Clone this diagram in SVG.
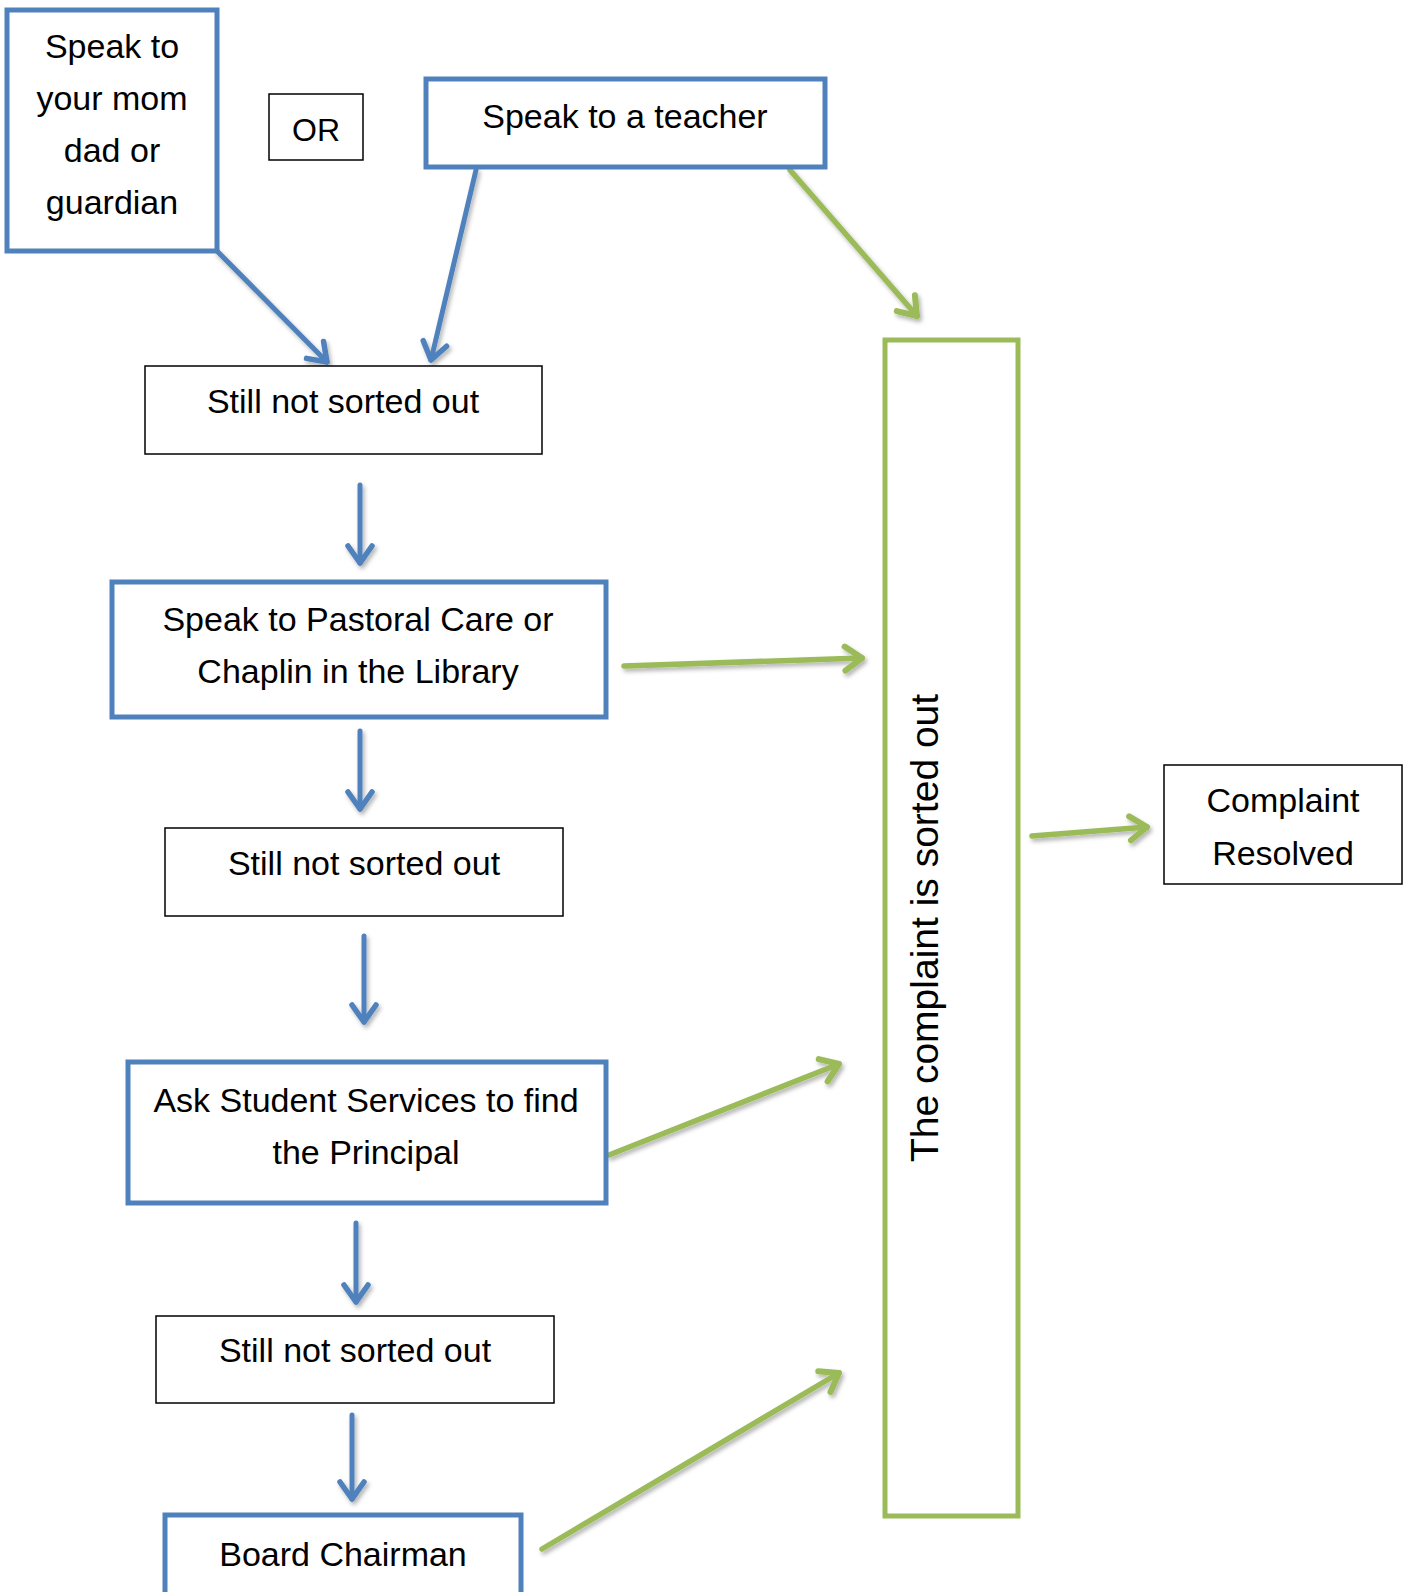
<svg xmlns="http://www.w3.org/2000/svg" width="1411" height="1592" viewBox="0 0 1411 1592">
  <style>
    .blue { fill: #ffffff; stroke: #4F81BD; stroke-width: 5; }
    .green { fill: #ffffff; stroke: #9BBB59; stroke-width: 5; }
    .plain { fill: #ffffff; stroke: #000000; stroke-width: 1.5; }
    text { font-family: "Liberation Sans", Arial, sans-serif; font-size: 34px; fill: #000000; text-anchor: middle; }
    .cb { fill: none; stroke: #4F81BD; stroke-width: 5; stroke-linecap: round; }
    .cg { fill: none; stroke: #9BBB59; stroke-width: 5.5; stroke-linecap: round; }
  </style>
  <defs>
    <marker id="ab" markerUnits="userSpaceOnUse" markerWidth="40" markerHeight="40" refX="0" refY="0" viewBox="-25 -20 30 40" orient="auto">
      <path d="M-17,-12 L0,0 L-17,12" fill="none" stroke="#4F81BD" stroke-width="5.5" stroke-linecap="round" stroke-linejoin="round"/>
    </marker>
    <marker id="ag" markerUnits="userSpaceOnUse" markerWidth="40" markerHeight="40" refX="0" refY="0" viewBox="-25 -20 30 40" orient="auto">
      <path d="M-17,-12 L0,0 L-17,12" fill="none" stroke="#9BBB59" stroke-width="6" stroke-linecap="round" stroke-linejoin="round"/>
    </marker>
    <filter id="sh" x="-20%" y="-20%" width="140%" height="140%">
      <feDropShadow dx="2" dy="3" stdDeviation="2" flood-color="#000000" flood-opacity="0.3"/>
    </filter>
  </defs>

  <g id="connectors" filter="url(#sh)">
    <line class="cb" x1="217" y1="251" x2="327" y2="362" marker-end="url(#ab)"/>
    <line class="cb" x1="476" y1="170" x2="431" y2="360" marker-end="url(#ab)"/>
    <line class="cg" x1="790" y1="170" x2="917" y2="316" marker-end="url(#ag)"/>
    <line class="cb" x1="360" y1="485" x2="360" y2="563" marker-end="url(#ab)"/>
    <line class="cg" x1="624" y1="666" x2="862" y2="658" marker-end="url(#ag)"/>
    <line class="cb" x1="360" y1="731" x2="360" y2="809" marker-end="url(#ab)"/>
    <line class="cb" x1="364" y1="936" x2="364" y2="1022" marker-end="url(#ab)"/>
    <line class="cg" x1="609" y1="1155" x2="839" y2="1064" marker-end="url(#ag)"/>
    <line class="cb" x1="356" y1="1223" x2="356" y2="1302" marker-end="url(#ab)"/>
    <line class="cb" x1="352" y1="1415" x2="352" y2="1499" marker-end="url(#ab)"/>
    <line class="cg" x1="542" y1="1549" x2="839" y2="1373" marker-end="url(#ag)"/>
    <line class="cg" x1="1032" y1="836" x2="1147" y2="827" marker-end="url(#ag)"/>
  </g>

  <g id="node-parent">
    <rect class="blue" x="7" y="10" width="210" height="241"/>
    <text x="112" y="58">Speak to</text>
    <text x="112" y="110">your mom</text>
    <text x="112" y="162">dad or</text>
    <text x="112" y="214">guardian</text>
  </g>

  <g id="node-or">
    <rect class="plain" x="269" y="94" width="94" height="66"/>
    <text x="316" y="141" style="font-size:32px">OR</text>
  </g>

  <g id="node-teacher">
    <rect class="blue" x="426" y="79" width="399" height="88"/>
    <text x="625" y="128">Speak to a teacher</text>
  </g>

  <g id="node-still1">
    <rect class="plain" x="145" y="366" width="397" height="88"/>
    <text x="343" y="413">Still not sorted out</text>
  </g>

  <g id="node-pastoral">
    <rect class="blue" x="112" y="582" width="494" height="135"/>
    <text x="358" y="631">Speak to Pastoral Care or</text>
    <text x="358" y="683">Chaplin in the Library</text>
  </g>

  <g id="node-still2">
    <rect class="plain" x="165" y="828" width="398" height="88"/>
    <text x="364" y="875">Still not sorted out</text>
  </g>

  <g id="node-student">
    <rect class="blue" x="128" y="1062" width="478" height="141"/>
    <text x="366" y="1112">Ask Student Services to find</text>
    <text x="366" y="1164">the Principal</text>
  </g>

  <g id="node-still3">
    <rect class="plain" x="156" y="1316" width="398" height="87"/>
    <text x="355" y="1362">Still not sorted out</text>
  </g>

  <g id="node-board">
    <rect class="blue" x="165" y="1515" width="356" height="100"/>
    <text x="343" y="1566">Board Chairman</text>
  </g>

  <g id="node-sorted">
    <rect class="green" x="885" y="340" width="133" height="1176"/>
    <text transform="translate(938,928) rotate(-90)" x="0" y="0" style="font-size:39px">The complaint is sorted out</text>
  </g>

  <g id="node-resolved">
    <rect class="plain" x="1164" y="765" width="238" height="119"/>
    <text x="1283" y="812">Complaint</text>
    <text x="1283" y="865">Resolved</text>
  </g>
</svg>
